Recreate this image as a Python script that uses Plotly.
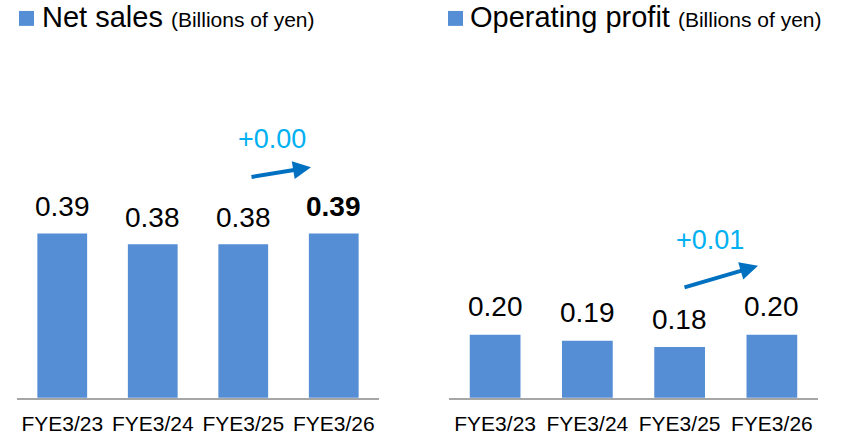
import plotly.graph_objects as go
from plotly.subplots import make_subplots

categories = ["FYE3/23", "FYE3/24", "FYE3/25", "FYE3/26"]
net_sales = [0.39, 0.38, 0.38, 0.39]
op_profit = [0.20, 0.19, 0.18, 0.20]
net_sales_delta = "+0.00"
op_profit_delta = "+0.01"

W, H = 844, 435
BAR = "#558ED5"
FONT = "Arial, Liberation Sans, sans-serif"

fig = make_subplots(rows=1, cols=2)
fig.add_trace(go.Bar(x=categories, y=net_sales, marker_color=BAR,
                     marker_line_width=0, hoverinfo="skip"), row=1, col=1)
fig.add_trace(go.Bar(x=categories, y=op_profit, marker_color=BAR,
                     marker_line_width=0, hoverinfo="skip"), row=1, col=2)

ybot = (H - 399.5) / H
xax = dict(showline=True, linecolor="#A6A6A6", linewidth=2, ticks="",
           tickfont=dict(size=21, color="black"), ticklabelstandoff=6)
fig.update_layout(
    width=W, height=H, margin=dict(l=0, r=0, t=0, b=0),
    paper_bgcolor="white", plot_bgcolor="white",
    showlegend=False, bargap=0.45,
    font=dict(family=FONT, color="black"),
    xaxis=dict(domain=[17 / W, 379 / W], **xax),
    xaxis2=dict(domain=[449 / W, 818 / W], **xax),
    yaxis=dict(domain=[ybot, 1], range=[0.236, 0.609], visible=False),
    yaxis2=dict(domain=[ybot, 1], range=[0.098, 0.742], visible=False),
)

annotations = []
for i, (c, v) in enumerate(zip(categories, net_sales)):
    txt = f"{v:.2f}"
    if i == len(categories) - 1:
        txt = f"<b>{txt}</b>"
    annotations.append(dict(x=c, y=v, xref="x", yref="y", text=txt, showarrow=False,
                            xanchor="center", yanchor="middle", yshift=27,
                            font=dict(size=28, color="black")))
for c, v in zip(categories, op_profit):
    annotations.append(dict(x=c, y=v, xref="x2", yref="y2", text=f"{v:.2f}", showarrow=False,
                            xanchor="center", yanchor="middle", yshift=28,
                            font=dict(size=28, color="black")))

# titles
annotations.append(dict(x=40 / W, y=1 - 17 / H, xref="paper", yref="paper", xanchor="left",
                        yanchor="middle", showarrow=False,
                        text="Net sales <span style='font-size:21px'>(Billions of yen)</span>",
                        font=dict(size=29, color="black")))
annotations.append(dict(x=468 / W, y=1 - 17 / H, xref="paper", yref="paper", xanchor="left",
                        yanchor="middle", showarrow=False,
                        text="Operating profit <span style='font-size:21px'>(Billions of yen)</span>",
                        font=dict(size=29, color="black")))

# delta labels
annotations.append(dict(x=272 / W, y=1 - 140 / H, xref="paper", yref="paper", showarrow=False,
                        xanchor="center", yanchor="middle",
                        text=net_sales_delta, font=dict(size=27, color="#00B0F0")))
annotations.append(dict(x=710 / W, y=1 - 241 / H, xref="paper", yref="paper", showarrow=False,
                        xanchor="center", yanchor="middle",
                        text=op_profit_delta, font=dict(size=27, color="#00B0F0")))

# arrows
for tip, tail in [((311, 168), (250, 178)), ((758, 267), (683, 289))]:
    annotations.append(dict(x=tip[0] / W, y=1 - tip[1] / H, xref="paper", yref="paper",
                            ax=tail[0] - tip[0], ay=tail[1] - tip[1], text="",
                            showarrow=True, arrowhead=2, arrowsize=0.9, arrowwidth=4,
                            arrowcolor="#0070C0", standoff=0))

fig.update_layout(annotations=annotations)

shapes = []
for x0, y0, s in [(19, 11, 15), (448, 11, 15)]:
    shapes.append(dict(type="rect", xref="paper", yref="paper", x0=x0 / W, x1=(x0 + s) / W,
                       y0=1 - (y0 + s) / H, y1=1 - y0 / H, fillcolor=BAR, line_width=0))
fig.update_layout(shapes=shapes)

fig.write_html("out.html", config={"displayModeBar": False, "staticPlot": True},
               post_script="document.body.style.margin='0px';")
